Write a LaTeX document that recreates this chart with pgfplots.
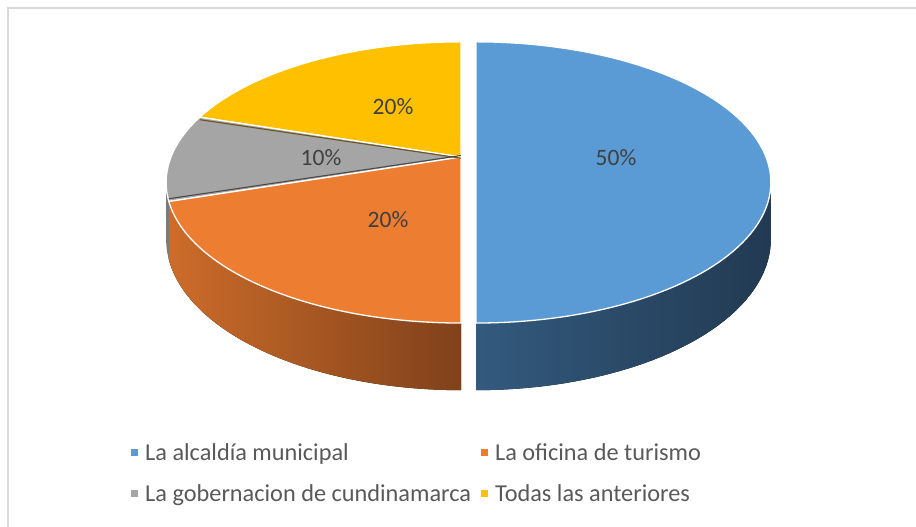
\documentclass[border=0pt]{standalone}
\usepackage{pgfplots}
\pgfplotsset{compat=1.18}
\usepackage{pgfplotstable}
\usepgfplotslibrary{fillbetween}
\usepackage{fontspec}
\setmainfont{Carlito}

\definecolor{cblue}{HTML}{5B9BD5}
\definecolor{corange}{HTML}{ED7D31}
\definecolor{cgray}{HTML}{A5A5A5}
\definecolor{cyellow}{HTML}{FFC000}
\definecolor{sblueL}{HTML}{335A7E}
\definecolor{sblueR}{HTML}{223A52}
\definecolor{sorangeL}{HTML}{CC6C2A}
\definecolor{sorangeR}{HTML}{80411A}
\definecolor{sgray}{HTML}{7A7A7A}
\definecolor{seamY}{HTML}{6B5520}
\definecolor{seamG}{HTML}{4A4A4A}
\definecolor{labtext}{HTML}{404040}
\definecolor{legtext}{HTML}{595959}
\definecolor{framec}{HTML}{D9D9D9}

\pgfplotstableread{
value
50
20
10
20
}\piedata

\begin{document}%
\begin{tikzpicture}
\pgfplotstablegetelem{0}{value}\of\piedata \edef\vA{\pgfplotsretval}
\pgfplotstablegetelem{1}{value}\of\piedata \edef\vB{\pgfplotsretval}
\pgfplotstablegetelem{2}{value}\of\piedata \edef\vC{\pgfplotsretval}
\pgfplotstablegetelem{3}{value}\of\piedata \edef\vD{\pgfplotsretval}
\pgfmathsetmacro\tot{\vA+\vB+\vC+\vD}
\pgfmathsetmacro\aA{360*(\vA/\tot)}
\pgfmathsetmacro\aB{\aA+360*(\vB/\tot)}
\pgfmathsetmacro\aC{\aB+360*(\vC/\tot)}
\pgfmathsetmacro\aD{\aC+360*(\vD/\tot)}
\def\cx{461}
\def\cy{370}
\def\dx{15}
\def\A{290}
\def\B{136}
\def\kk{0.181}
\def\h{55}
\pgfmathsetmacro\bx{\cx+\dx}
\pgfmathsetmacro\silR{acos(-\kk)}
\pgfmathsetmacro\silL{360-\silR}
\begin{axis}[
  width=916pt, height=527pt, scale only axis,
  xmin=0, xmax=916, ymin=0, ymax=527,
  hide axis, clip=false,
  declare function={
    px(\t)=\cx+\A*sin(\t)/(1+\kk*cos(\t));
    py(\t)=\cy+\B*cos(\t)/(1+\kk*cos(\t));
    pb(\t)=\cy+(\B*cos(\t)-\h)/(1+\kk*cos(\t));
  },
  legend columns=2,
  legend cell align=left,
  legend image code/.code={\fill[#1,draw=none] (0pt,-3.5pt) rectangle (7pt,3.5pt); \path[draw=none,fill=none] (0pt,0pt) -- (12pt,0pt);},
  legend style={draw=none, fill=none, inner sep=0pt,
    at={(axis cs:131,86)}, anchor=north west,
    font=\fontsize{24.3}{29}\selectfont, text=legtext,
    nodes={inner xsep=2pt, inner ysep=2pt},
    /tikz/every even column/.append style={column sep=8pt},
    row sep=19pt},
]
\coordinate (bbSW) at (axis cs:0,0);
\coordinate (bbNE) at (axis cs:916,527);
% frame
\draw[framec, line width=1.5pt] (axis cs:8,0) -- (axis cs:8,519) -- (axis cs:916,519);

% ---- side surfaces ----
\addplot[draw=none, forget plot, name path=btop, domain=\silR:\aA, samples=40, variable=\t] ({px(\t)+\dx},{py(\t)});
\addplot[draw=none, forget plot, name path=bbot, domain=\silR:\aA, samples=40, variable=\t] ({px(\t)+\dx},{pb(\t)});
\addplot[left color=sblueL, right color=sblueR, forget plot] fill between[of=btop and bbot];

\addplot[draw=none, forget plot, name path=otop, domain=\aA:\aB, samples=40, variable=\t] ({px(\t)},{py(\t)});
\addplot[draw=none, forget plot, name path=obot, domain=\aA:\aB, samples=40, variable=\t] ({px(\t)},{pb(\t)});
\addplot[left color=sorangeL, right color=sorangeR, forget plot] fill between[of=otop and obot];

\addplot[draw=none, forget plot, name path=gtop, domain=\aB:\silL, samples=10, variable=\t] ({px(\t)},{py(\t)});
\addplot[draw=none, forget plot, name path=gbot, domain=\aB:\silL, samples=10, variable=\t] ({px(\t)},{pb(\t)});
\addplot[fill=sgray, draw=none, forget plot] fill between[of=gtop and gbot];

% ---- top faces ----
\addplot[fill=cyellow, draw=white, line width=1.3pt, line join=round, forget plot, domain=\aC:\aD, samples=60, variable=\t]
  ({px(\t)},{py(\t)}) -- (axis cs:\cx,\cy) -- cycle;
\addplot[fill=cgray, draw=white, line width=1.3pt, line join=round, forget plot, domain=\aB:\aC, samples=30, variable=\t]
  ({px(\t)},{py(\t)}) -- (axis cs:\cx,\cy) -- cycle;
\addplot[fill=corange, draw=white, line width=1.3pt, line join=round, forget plot, domain=\aA:\aB, samples=60, variable=\t]
  ({px(\t)},{py(\t)}) -- (axis cs:\cx,\cy) -- cycle;
\addplot[fill=cblue, draw=white, line width=1.3pt, line join=round, forget plot, domain=0:\aA, samples=120, variable=\t]
  ({px(\t)+\dx},{py(\t)}) -- (axis cs:\bx,\cy) -- cycle;

% ---- thin cut-face seams ----
\addplot[draw=seamY, line width=1.1pt, forget plot, domain=0:1, samples=2, variable=\s]
  ({\cx+\s*(px(\aC)-\cx)},{\cy-1.2+\s*(py(\aC)-\cy-1.3)});
\addplot[draw=seamG, line width=1.1pt, forget plot, domain=0:1, samples=2, variable=\s]
  ({\cx+\s*(px(\aB)-\cx)},{\cy+1.5+\s*(py(\aB)-\cy+1.3)});

% ---- data labels ----
\node[text=labtext, font=\fontsize{23.5}{27}\selectfont] at (axis cs:616,369) {50\%};
\node[text=labtext, font=\fontsize{23.5}{27}\selectfont] at (axis cs:388,307) {20\%};
\node[text=labtext, font=\fontsize{23.5}{27}\selectfont] at (axis cs:321,369) {10\%};
\node[text=labtext, font=\fontsize{23.5}{27}\selectfont] at (axis cs:393,420) {20\%};

% ---- legend ----
\addlegendimage{cblue}
\addlegendentry{La alcaldía municipal}
\addlegendimage{corange}
\addlegendentry{La oficina de turismo}
\addlegendimage{cgray}
\addlegendentry{La gobernacion de cundinamarca}
\addlegendimage{cyellow}
\addlegendentry{Todas las anteriores}
\end{axis}
\pgfresetboundingbox
\path (bbSW) rectangle (bbNE);
\end{tikzpicture}%
\end{document}
